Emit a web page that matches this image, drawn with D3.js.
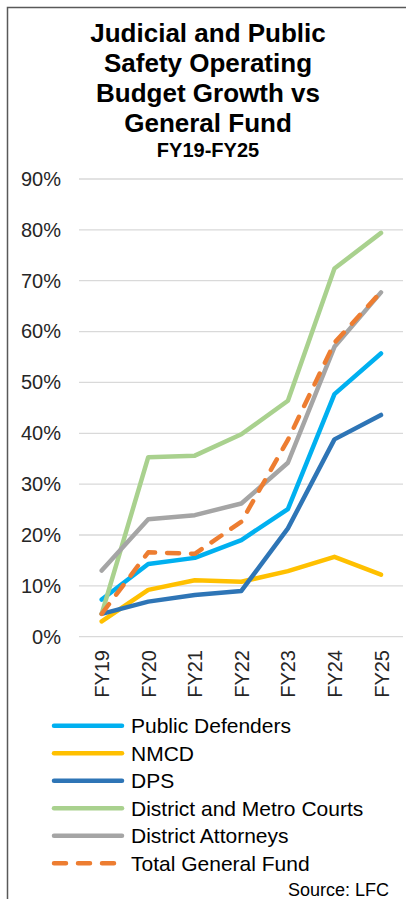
<!DOCTYPE html>
<html>
<head>
<meta charset="utf-8">
<script src="https://cdn.jsdelivr.net/npm/d3@7"></script>
<style>
  html, body { margin: 0; padding: 0; background: #fff; }
  svg { display: block; font-family: "Liberation Sans", Arial, sans-serif; }
</style>
</head>
<body>
<svg id="chart" width="406" height="899"></svg>
<script>
const categories = ["FY19", "FY20", "FY21", "FY22", "FY23", "FY24", "FY25"];
const seriesNames = ["Public Defenders", "NMCD", "DPS", "District and Metro Courts", "District Attorneys", "Total General Fund"];
const publicDefenders = [0.073, 0.143, 0.155, 0.190, 0.251, 0.477, 0.557];
const nmcd = [0.030, 0.092, 0.111, 0.108, 0.129, 0.157, 0.122];
const dps = [0.045, 0.069, 0.082, 0.090, 0.213, 0.388, 0.436];
const courts = [0.045, 0.353, 0.356, 0.398, 0.464, 0.724, 0.794];
const districtAttorneys = [0.130, 0.231, 0.239, 0.262, 0.342, 0.570, 0.677];
const totalGeneralFund = [0.045, 0.166, 0.163, 0.226, 0.387, 0.578, 0.678];
const yTicks = [0, 0.1, 0.2, 0.3, 0.4, 0.5, 0.6, 0.7, 0.8, 0.9];
const colors = ["#00B0F0", "#FFC000", "#2E75B6", "#A9D18E", "#A5A5A5", "#ED7D31"];
const dashed = [false, false, false, false, false, true];
const titleLines = ["Judicial and Public", "Safety Operating", "Budget Growth vs", "General Fund"];
const subtitle = "FY19-FY25";
const source = "Source: LFC";

const seriesValues = [publicDefenders, nmcd, dps, courts, districtAttorneys, totalGeneralFund];
const series = seriesNames.map((name, i) => ({ name, values: seriesValues[i], color: colors[i], dashed: dashed[i] }));

const svg = d3.select("#chart");

// frame
svg.append("rect").attr("x", 7.5).attr("y", 7.5).attr("width", 420).attr("height", 920)
  .attr("fill", "none").attr("stroke", "#595959").attr("stroke-width", 1.5);

// title
const title = svg.append("text").attr("text-anchor", "middle").attr("font-weight", "bold")
  .attr("font-size", 26).attr("fill", "#000");
titleLines.forEach((t, i) => {
  title.append("tspan").attr("x", 208).attr("y", 42 + i * 30).text(t);
});
svg.append("text").attr("x", 208).attr("y", 157).attr("text-anchor", "middle")
  .attr("font-weight", "bold").attr("font-size", 20).attr("fill", "#000").text(subtitle);

const x = d3.scalePoint().domain(categories).range([101.7, 381]);
const y = d3.scaleLinear().domain([0, 0.9]).range([636.7, 179]);

// gridlines
svg.append("g").selectAll("line").data(yTicks).join("line")
  .attr("x1", 79).attr("x2", 403)
  .attr("y1", d => y(d)).attr("y2", d => y(d))
  .attr("stroke", "#D9D9D9").attr("stroke-width", 1.3);

// y axis
const yAxis = svg.append("g").attr("transform", "translate(61,0)")
  .call(d3.axisLeft(y).tickValues(yTicks).tickFormat(d3.format(".0%")).tickSize(0).tickPadding(0));
yAxis.select(".domain").remove();
yAxis.selectAll("text").attr("font-size", 20).attr("fill", "#262626")
  .attr("font-family", "'Liberation Sans', Arial, sans-serif");

// x axis
const xAxis = svg.append("g").attr("transform", "translate(0,650)")
  .call(d3.axisBottom(x).tickSize(0).tickPadding(0));
xAxis.select(".domain").remove();
xAxis.selectAll("text")
  .attr("font-size", 20).attr("fill", "#262626")
  .attr("font-family", "'Liberation Sans', Arial, sans-serif")
  .attr("text-anchor", "end")
  .attr("transform", "rotate(-90)")
  .attr("x", 0).attr("y", 0).attr("dy", "0.35em");

// lines
const line = d3.line().x((d, i) => x(categories[i])).y(d => y(d));
svg.append("g").selectAll("path").data(series).join("path")
  .attr("d", d => line(d.values))
  .attr("fill", "none")
  .attr("stroke", d => d.color)
  .attr("stroke-width", 4.5)
  .attr("stroke-linejoin", "round")
  .attr("stroke-linecap", "round")
  .attr("stroke-dasharray", d => d.dashed ? "12,12" : null);

// legend
const legend = svg.append("g").selectAll("g").data(series).join("g")
  .attr("transform", (d, i) => `translate(0,${725.7 + i * 27.5})`);
legend.append("line").attr("x1", 54).attr("x2", 122).attr("y1", 0).attr("y2", 0)
  .attr("stroke", d => d.color).attr("stroke-width", 4.5).attr("stroke-linecap", "round")
  .attr("stroke-dasharray", d => d.dashed ? "12,12" : null);
legend.append("text").attr("x", 131).attr("y", 0).attr("dy", "0.35em")
  .attr("font-size", 21).attr("fill", "#000").text(d => d.name);

svg.append("text").attr("x", 389).attr("y", 896).attr("text-anchor", "end")
  .attr("font-size", 18).attr("fill", "#000").text(source);
</script>
</body>
</html>
